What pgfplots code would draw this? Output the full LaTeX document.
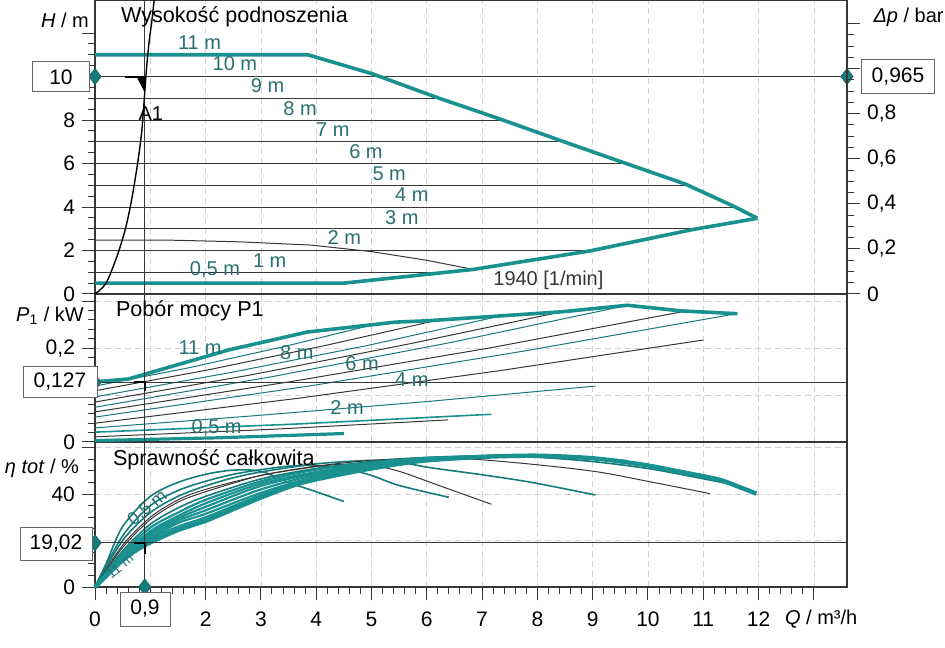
\documentclass[border=0pt]{standalone}
\usepackage{pgfplots}
\pgfplotsset{compat=1.18}
\usepackage{fontspec}
\setmainfont{Liberation Sans}
\definecolor{tl}{RGB}{25,145,145}
\definecolor{tld}{RGB}{40,112,112}
\definecolor{ln}{RGB}{55,55,55}
\begin{document}
\begin{tikzpicture}[font=\fontsize{10}{12}\selectfont]
\useasboundingbox (0,0) rectangle (472.5pt,323.5pt);
\pgfplotsset{
  pan/.style={scale only axis, width=376pt, xmin=0, xmax=13.6, clip=false,
    axis line style={ln, line width=0.6pt},
    tick align=outside, major tick length=6.5pt, minor tick length=3.5pt,
    tick style={ln, line width=0.5pt},
    ytick pos=left, xmajorgrids,
    grid style={gray!35, dash pattern=on 3pt off 2pt, line width=0.3pt},
    ticklabel style={font=\fontsize{10.5}{12}\selectfont},
    every axis plot/.append style={line join=round},
  },
  upper/.style={xtick={1,...,13}, xticklabels={}, xtick style={draw=none}},
  iso/.style={ln, line width=0.5pt},
  isot/.style={tl!85!black, line width=0.5pt},
  thick/.style={tl, line width=1.8pt},
  dia/.style={only marks, mark=diamond*, mark size=4pt, mark options={draw=tl!70!black, fill=tl!85!black}},
}
% ================= efficiency =================
\begin{axis}[pan, at={(47.5pt,30pt)}, anchor=south west, height=72.5pt,
  ymin=0, ymax=62.4, xtick pos=bottom,
  xtick={0,...,13}, xticklabels={0,,2,3,4,5,6,7,8,9,10,11,12,}, minor x tick num=4,
  xticklabel style={yshift=-2.5pt},
  ytick={0,20,40,60}, yticklabels={0,,40,}, minor y tick num=3, ymajorgrids]
\addplot[isot, line width=0.8pt, smooth] coordinates {(0,0)(0.2,10)(0.5,26)(1,39)(1.5,45)(2,48.5)(2.5,50.3)(3,49.8)(3.5,45)(4,41)(4.5,36.8)};
\addplot[isot, line width=0.8pt, smooth] coordinates {(0,0)(0.5,22)(1,35)(1.5,41.5)(2,45.5)(2.5,48.5)(3,50.5)(3.5,52)(4,52.3)(4.5,51)(5,48)(5.5,43.7)(6.4,38.6)};
\addplot[iso, smooth] coordinates {(0,0)(0.5,18)(1,30)(1.5,37.5)(2,42)(3,48)(4,51.8)(4.5,52.8)(5,52.3)(5.5,49.8)(6.3,43)(7.17,35.6)};
\addplot[isot, line width=0.8pt, smooth] coordinates {(0,0)(0.5,20)(1,32)(1.5,39)(2,43.5)(2.5,47)(3,49.5)(4,53)(5,54.5)(5.5,53.8)(6.05,51.4)(7,48.3)(7.9,45)(9.05,39.6)};
\addplot[iso, smooth] coordinates {(0,0)(0.5,17)(1,29)(1.5,36.5)(2,41)(3,48)(4,52)(5,54.5)(6,55.6)(6.8,55.1)(8,52.6)(9.1,49.5)(10.1,45)(11.12,40.2)};
\addplot[isot, line width=0.8pt, smooth] coordinates {(0,0)(0.5,15.5)(1,27)(1.5,34)(2,39)(3,46.5)(4,51)(5,54)(6,55.8)(7,56.2)(8,55.8)(9,54)(10,51)(10.8,47.5)(11.55,44)};
\addplot[tl, line width=1.1pt, smooth] coordinates {(0,0)(0.5,14.5)(1,25.5)(1.5,32)(2,37.5)(3,45.5)(4,50.5)(5,53.5)(6,55.5)(7,56.4)(8,56.4)(9,55.2)(10,52.5)(10.7,49.3)};
\addplot[tl, line width=1.1pt, smooth] coordinates {(0,0)(0.5,13.5)(1,24)(1.5,30.5)(2,36)(3,44.5)(4,49.5)(5,53)(6,55.3)(7,56.3)(8,56.5)(9,55.4)(9.6,54.3)};
\addplot[tl, line width=1.1pt, smooth] coordinates {(0,0)(0.5,13)(1,23)(1.5,29.5)(2,34.5)(3,43.5)(4,49)(5,52.5)(6,55)(7,56.2)(8,56.5)(8.48,56.3)};
\addplot[tl, line width=1.1pt, smooth] coordinates {(0,0)(0.5,12.5)(1,22)(1.5,28.5)(2,33)(3,42)(4,48.3)(5,52)(6,54.8)(7,56)(7.37,56.2)};
\addplot[tl, line width=1.1pt, smooth] coordinates {(0,0)(0.5,12.3)(1,21)(1.5,27.5)(2,31.5)(3,40.5)(4,47.5)(5,51.5)(6,54.5)(6.22,54.8)};
\addplot[tl, line width=1.1pt, smooth] coordinates {(0,0)(0.5,12)(1,20.5)(1.5,26)(2,30)(3,39.5)(4,47)(5,51.2)(5.15,51.6)};
\addplot[thick, line width=2.2pt, smooth] coordinates {(0,0)(0.5,11.5)(0.9,18)(1.5,24.5)(2,28.5)(2.5,33.5)(3,38.5)(3.5,43)(3.85,45.5)(4.5,48.8)(5,51)(5.5,53)(6,54.5)(7,56)(8,56.5)(9,55.4)(9.87,52.8)(10.5,50)(11.27,46.3)(11.6,43.5)(11.96,40.2)};
\addplot[ln, line width=0.5pt] coordinates {(0,19.02)(13.6,19.02)};
\addplot[ln, line width=0.5pt] coordinates {(0.9,0)(0.9,62.4)};
\addplot[black, line width=0.9pt] coordinates {(0.7,19.02)(0.9,19.02)(0.9,14)};
\addplot[dia] coordinates {(0,19.02)(0.9,0)};
\node[tld, rotate=40, font=\fontsize{9}{10}\selectfont, inner sep=0pt] at (axis cs:0.95,34) {0,5 m};
\node[tld, rotate=40, font=\fontsize{7}{8}\selectfont, inner sep=0pt] at (axis cs:0.45,9) {11 m};
\end{axis}
% ================= power =================
\begin{axis}[pan, upper, at={(47.5pt,102.5pt)}, anchor=south west, height=74pt,
  ymin=0, ymax=0.315, ytick={0,0.1,0.2,0.3}, yticklabels={0,,{0,2},}, minor y tick num=4, ymajorgrids]
\addplot[isot] coordinates {(0,0.119)(1.7,0.158)(3.45,0.204)(5.15,0.253)};
\addplot[iso] coordinates {(0,0.109)(2.07,0.154)(4.15,0.205)(6.22,0.260)};
\addplot[isot] coordinates {(0,0.096)(2.46,0.148)(4.91,0.205)(7.37,0.269)};
\addplot[iso] coordinates {(0,0.085)(2.83,0.143)(5.65,0.208)(8.48,0.278)};
\addplot[isot] coordinates {(0,0.074)(3.2,0.139)(6.4,0.211)(9.6,0.290)};
\addplot[iso] coordinates {(0,0.064)(3.57,0.129)(7.13,0.200)(10.7,0.279)};
\addplot[isot] coordinates {(0,0.053)(3.87,0.119)(7.73,0.193)(11.6,0.273)};
\addplot[iso] coordinates {(0,0.040)(3.67,0.093)(7.33,0.152)(11.0,0.217)};
\addplot[isot] coordinates {(0,0.030)(3.0,0.057)(6.0,0.086)(9.05,0.119)};
\addplot[tl, line width=0.8pt] coordinates {(0,0.021)(3.6,0.038)(7.17,0.059)};
\addplot[iso] coordinates {(0,0.011)(3.2,0.027)(6.38,0.047)};
\addplot[thick, line width=1.6pt] coordinates {(0,0.003)(2.25,0.009)(4.5,0.018)};
\addplot[thick] coordinates {(0,0.128)(0.6,0.134)(2.42,0.196)(3.84,0.234)(5.42,0.255)(6.01,0.258)(8.43,0.277)(9.63,0.291)(10.6,0.279)(11.62,0.273)};
\addplot[ln, line width=0.5pt] coordinates {(0,0.127)(13.6,0.127)};
\addplot[ln, line width=0.5pt] coordinates {(0.9,0)(0.9,0.315)};
\addplot[black, line width=0.9pt] coordinates {(0.7,0.127)(0.9,0.127)(0.9,0.108)};
\addplot[dia] coordinates {(0,0.127)};
\node[tld] at (axis cs:1.9,0.2) {11 m};
\node[tld] at (axis cs:3.65,0.19) {8 m};
\node[tld] at (axis cs:4.83,0.166) {6 m};
\node[tld] at (axis cs:5.73,0.132) {4 m};
\node[tld] at (axis cs:4.56,0.074) {2 m};
\node[tld] at (axis cs:2.2,0.031) {0,5 m};
\end{axis}
% ================= head =================
\begin{axis}[pan, upper, at={(47.5pt,176.5pt)}, anchor=south west, height=147pt,
  ymin=0, ymax=13.52, ytick={0,2,...,12}, yticklabels={0,2,4,6,8,,}, minor y tick num=3]
\addplot[iso] coordinates {(0,9)(6.22,9)};
\addplot[iso] coordinates {(0,8)(7.37,8)};
\addplot[iso] coordinates {(0,7)(8.48,7)};
\addplot[iso] coordinates {(0,6)(9.6,6)};
\addplot[iso] coordinates {(0,5)(10.7,5)};
\addplot[iso] coordinates {(0,4)(11.55,4)};
\addplot[iso] coordinates {(0,3)(10.87,3)};
\addplot[iso] coordinates {(0,2)(8.97,2)};
\addplot[iso] coordinates {(0,1)(6.36,1)};
\addplot[iso] coordinates {(0,2.48)(1.3,2.48)(2.6,2.4)(3.9,2.25)(5.0,1.95)(6.0,1.55)(6.84,1.13)};
\addplot[ln, line width=0.5pt] coordinates {(0,10)(13.6,10)};
\addplot[thick] coordinates {(0,11)(3.85,11)(5.01,10.13)(6.18,9.04)(7.32,8.05)(8.47,7.01)(9.64,5.97)(10.67,5.06)(11.53,4.06)(11.98,3.48)};
\addplot[thick] coordinates {(0,0.5)(4.5,0.5)(6.84,1.13)(8.95,1.98)(10.8,2.96)(11.98,3.48)};
\addplot[ln, line width=0.5pt] coordinates {(0.9,0)(0.9,13.52)};
\addplot[black, line width=0.7pt, smooth] coordinates {(0,0)(0.2,0.5)(0.4,1.75)(0.55,3)(0.66,4.3)(0.77,6)(0.85,7.6)(0.92,10)(0.97,11.4)(1.03,12.6)(1.07,13.52)};
\addplot[black, line width=1pt] coordinates {(0.55,10)(0.9,10)};
\addplot[black, fill=black] coordinates {(0.76,10)(0.9,10)(0.9,9.3)} -- cycle;
\addplot[dia] coordinates {(0,10)(13.6,10)};
\node[tld] at (axis cs:1.89,11.56) {11 m};
\node[tld] at (axis cs:2.53,10.59) {10 m};
\node[tld] at (axis cs:3.12,9.56) {9 m};
\node[tld] at (axis cs:3.71,8.54) {8 m};
\node[tld] at (axis cs:4.3,7.56) {7 m};
\node[tld] at (axis cs:4.9,6.57) {6 m};
\node[tld] at (axis cs:5.32,5.54) {5 m};
\node[tld] at (axis cs:5.73,4.55) {4 m};
\node[tld] at (axis cs:5.55,3.53) {3 m};
\node[tld] at (axis cs:4.51,2.6) {2 m};
\node[tld] at (axis cs:3.16,1.52) {1 m};
\node[tld] at (axis cs:2.17,1.1) {0,5 m};
\node[ln] at (axis cs:8.2,0.64) {1940 [1/min]};
\node[black] at (axis cs:1.01,8.3) {A1};
\end{axis}
% ================= delta p (right) =================
\begin{axis}[scale only axis, width=376pt, height=147pt, at={(47.5pt,176.5pt)}, anchor=south west,
  xmin=0, xmax=13.6, ymin=0, ymax=1.3047, axis x line=none, axis y line*=right,
  axis line style={ln, line width=0.6pt},
  tick align=outside, major tick length=6.5pt, minor tick length=3.5pt,
  tick style={ln, line width=0.5pt},
  ytick={0,0.2,0.4,0.6,0.8,1.0,1.2}, yticklabels={0,{0,2},{0,4},{0,6},{0,8},,}, minor y tick num=3,
  ticklabel style={font=\fontsize{10.5}{12}\selectfont}]
\addplot[draw=none] coordinates {(0,0)};
\end{axis}
% ================= outer texts =================
\node at (32.5pt,313.5pt) {\textit{H} / m};
\node at (25pt,165.5pt) {\textit{P}\textsubscript{1} / kW};
\node at (21pt,89.5pt) {\textit{η tot} / \%};
\node[anchor=west] at (389pt,14pt) {\textit{Q} / m³/h};
\node[anchor=east, inner sep=0.5pt] at (472.5pt,315pt) {\textit{Δp} / bar};
\node[anchor=west, font=\fontsize{10.8}{12}\selectfont] at (57pt,315pt) {Wysokość podnoszenia};
\node[anchor=west, font=\fontsize{10.8}{12}\selectfont] at (54.5pt,168pt) {Pobór mocy P1};
\node[anchor=west, font=\fontsize{10.8}{12}\selectfont] at (53pt,93.5pt) {Sprawność całkowita};
\tikzset{box/.style={draw=gray!80!black, line width=0.5pt, fill=white, inner sep=0pt, font=\fontsize{10.5}{12}\selectfont}}
\node[box, minimum width=28.5pt, minimum height=15pt] at (30.5pt,285pt) {10};
\node[box, minimum width=37pt, minimum height=15.5pt] at (30pt,132.5pt) {0,127};
\node[box, minimum width=36pt, minimum height=16.5pt] at (28pt,51.5pt) {19,02};
\node[box, minimum width=25pt, minimum height=17pt] at (72.5pt,19pt) {0,9};
\node[box, minimum width=36.5pt, minimum height=17pt] at (449pt,285.25pt) {0,965};
\end{tikzpicture}
\end{document}
